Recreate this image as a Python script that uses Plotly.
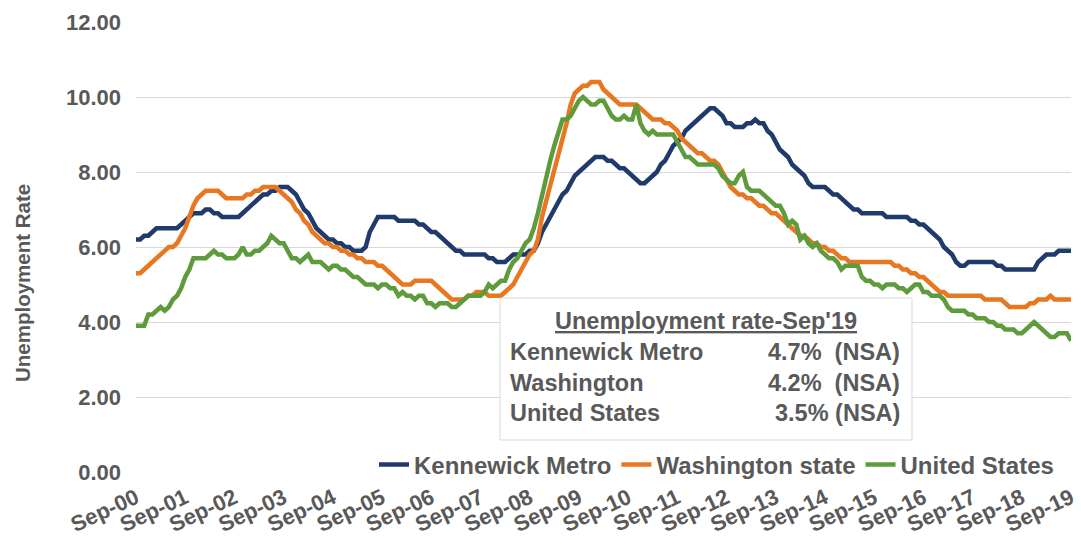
import plotly.graph_objects as go

# Monthly unemployment rates, Sep-2000 .. Sep-2019 (12 per row: Sep..Aug)
kennewick = [
    6.2, 6.2, 6.3, 6.3, 6.4, 6.5, 6.5, 6.5, 6.5, 6.5, 6.5, 6.6,
    6.7, 6.8, 6.9, 6.9, 6.9, 7.0, 7.0, 6.9, 6.9, 6.8, 6.8, 6.8,
    6.8, 6.8, 6.9, 7.0, 7.1, 7.2, 7.3, 7.4, 7.4, 7.5, 7.5, 7.6,
    7.6, 7.6, 7.5, 7.4, 7.2, 7.0, 6.9, 6.7, 6.5, 6.4, 6.3, 6.2,
    6.2, 6.1, 6.1, 6.0, 6.0, 5.9, 5.9, 5.9, 6.0, 6.4, 6.6, 6.8,
    6.8, 6.8, 6.8, 6.8, 6.7, 6.7, 6.7, 6.7, 6.7, 6.6, 6.6, 6.5,
    6.4, 6.4, 6.3, 6.2, 6.1, 6.0, 5.9, 5.9, 5.8, 5.8, 5.8, 5.8,
    5.8, 5.8, 5.7, 5.7, 5.6, 5.6, 5.6, 5.7, 5.8, 5.8, 5.8, 5.8,
    5.9, 5.9, 6.1, 6.4, 6.6, 6.8, 7.0, 7.2, 7.4, 7.5, 7.7, 7.9,
    8.0, 8.1, 8.2, 8.3, 8.4, 8.4, 8.4, 8.3, 8.3, 8.2, 8.1, 8.1,
    8.0, 7.9, 7.8, 7.7, 7.7, 7.8, 7.9, 8.0, 8.2, 8.3, 8.5, 8.7,
    8.8, 8.9, 9.1, 9.2, 9.3, 9.4, 9.5, 9.6, 9.7, 9.7, 9.6, 9.5,
    9.3, 9.3, 9.2, 9.2, 9.2, 9.3, 9.3, 9.4, 9.3, 9.3, 9.1, 9.0,
    8.8, 8.6, 8.5, 8.4, 8.2, 8.1, 8.0, 7.9, 7.7, 7.6, 7.6, 7.6,
    7.6, 7.5, 7.4, 7.4, 7.3, 7.2, 7.1, 7.0, 7.0, 6.9, 6.9, 6.9,
    6.9, 6.9, 6.9, 6.8, 6.8, 6.8, 6.8, 6.8, 6.8, 6.7, 6.7, 6.6,
    6.6, 6.5, 6.4, 6.3, 6.2, 6.0, 5.9, 5.8, 5.6, 5.5, 5.5, 5.6,
    5.6, 5.6, 5.6, 5.6, 5.6, 5.6, 5.5, 5.5, 5.4, 5.4, 5.4, 5.4,
    5.4, 5.4, 5.4, 5.4, 5.6, 5.7, 5.8, 5.8, 5.8, 5.9, 5.9, 5.9, 5.9,
]

washington = [
    5.3, 5.3, 5.4, 5.5, 5.6, 5.7, 5.8, 5.9, 6.0, 6.0, 6.1, 6.3,
    6.5, 6.8, 7.1, 7.3, 7.4, 7.5, 7.5, 7.5, 7.5, 7.4, 7.3, 7.3,
    7.3, 7.3, 7.3, 7.4, 7.4, 7.5, 7.5, 7.6, 7.6, 7.6, 7.6, 7.5,
    7.4, 7.3, 7.2, 7.0, 6.9, 6.7, 6.6, 6.4, 6.3, 6.2, 6.1, 6.1,
    6.0, 6.0, 5.9, 5.9, 5.8, 5.8, 5.7, 5.7, 5.6, 5.6, 5.6, 5.5,
    5.5, 5.4, 5.3, 5.2, 5.1, 5.0, 5.0, 5.0, 5.1, 5.1, 5.1, 5.1,
    5.1, 5.0, 4.9, 4.8, 4.7, 4.6, 4.6, 4.6, 4.6, 4.7, 4.7, 4.8,
    4.8, 4.8, 4.7, 4.7, 4.7, 4.7, 4.8, 4.9, 5.0, 5.2, 5.4, 5.6,
    5.8, 5.9, 6.2, 6.8, 7.2, 7.7, 8.1, 8.5, 8.9, 9.3, 9.8, 10.1,
    10.2, 10.3, 10.3, 10.4, 10.4, 10.4, 10.2, 10.1, 10.0, 9.9, 9.8, 9.8,
    9.8, 9.8, 9.8, 9.7, 9.6, 9.5, 9.4, 9.4, 9.4, 9.3, 9.3, 9.2,
    9.1, 8.9, 8.8, 8.7, 8.6, 8.5, 8.5, 8.4, 8.3, 8.3, 8.2, 8.0,
    7.8, 7.6, 7.5, 7.4, 7.4, 7.3, 7.3, 7.2, 7.1, 7.1, 7.0, 6.9,
    6.9, 6.8, 6.7, 6.6, 6.5, 6.4, 6.3, 6.3, 6.2, 6.1, 6.1, 6.0,
    6.0, 5.9, 5.9, 5.8, 5.7, 5.7, 5.6, 5.6, 5.6, 5.6, 5.6, 5.6,
    5.6, 5.6, 5.6, 5.6, 5.6, 5.5, 5.5, 5.4, 5.4, 5.3, 5.3, 5.2,
    5.2, 5.1, 5.0, 4.9, 4.8, 4.8, 4.7, 4.7, 4.7, 4.7, 4.7, 4.7,
    4.7, 4.7, 4.7, 4.6, 4.6, 4.6, 4.6, 4.6, 4.5, 4.4, 4.4, 4.4,
    4.4, 4.4, 4.5, 4.5, 4.6, 4.6, 4.6, 4.7, 4.6, 4.6, 4.6, 4.6, 4.6,
]

united_states = [
    3.9, 3.9, 3.9, 4.2, 4.2, 4.3, 4.4, 4.3, 4.4, 4.6, 4.7, 4.9,
    5.2, 5.4, 5.7, 5.7, 5.7, 5.7, 5.8, 5.9, 5.8, 5.8, 5.7, 5.7,
    5.7, 5.8, 6.0, 5.8, 5.8, 5.9, 5.9, 6.0, 6.1, 6.3, 6.2, 6.1,
    6.1, 5.9, 5.7, 5.7, 5.6, 5.7, 5.8, 5.6, 5.6, 5.6, 5.5, 5.4,
    5.5, 5.5, 5.4, 5.4, 5.3, 5.2, 5.2, 5.1, 5.0, 5.0, 5.0, 4.9,
    5.0, 5.0, 4.9, 4.9, 4.7, 4.8, 4.7, 4.7, 4.6, 4.7, 4.7, 4.5,
    4.5, 4.4, 4.5, 4.5, 4.5, 4.4, 4.4, 4.5, 4.6, 4.7, 4.7, 4.7,
    4.7, 4.8, 5.0, 4.9, 5.0, 5.1, 5.1, 5.4, 5.6, 5.7, 5.9, 6.1,
    6.2, 6.5, 6.9, 7.4, 7.8, 8.3, 8.7, 9.1, 9.4, 9.4, 9.5, 9.7,
    9.9, 10.0, 9.9, 9.8, 9.8, 9.9, 9.9, 9.7, 9.5, 9.4, 9.4, 9.5,
    9.4, 9.4, 9.8, 9.3, 9.1, 9.0, 9.1, 9.0, 9.0, 9.0, 9.0, 9.0,
    8.8, 8.6, 8.4, 8.4, 8.3, 8.2, 8.2, 8.2, 8.2, 8.2, 8.1, 7.9,
    7.8, 7.7, 7.7, 7.9, 8.0, 7.6, 7.5, 7.5, 7.5, 7.4, 7.3, 7.2,
    7.1, 7.1, 6.9, 6.6, 6.7, 6.6, 6.2, 6.3, 6.1, 6.0, 6.1, 5.9,
    5.8, 5.7, 5.7, 5.6, 5.4, 5.5, 5.5, 5.5, 5.5, 5.2, 5.1, 5.1,
    5.0, 5.0, 4.9, 5.0, 5.0, 5.0, 4.9, 4.9, 4.8, 4.9, 5.0, 5.0,
    4.8, 4.8, 4.7, 4.7, 4.7, 4.6, 4.4, 4.3, 4.3, 4.3, 4.3, 4.2,
    4.2, 4.1, 4.1, 4.1, 4.0, 4.0, 3.9, 3.9, 3.8, 3.8, 3.8, 3.7,
    3.7, 3.8, 3.9, 4.0, 3.9, 3.8, 3.7, 3.6, 3.6, 3.7, 3.7, 3.7, 3.5,
]

year_labels = ["Sep-%02d" % y for y in range(0, 20)]
series_names = ["Kennewick Metro", "Washington state", "United States"]
box_rows = [("Kennewick Metro", "4.7%  (NSA)"),
            ("Washington", "4.2%  (NSA)"),
            ("United States", "3.5% (NSA)")]

months = list(range(len(kennewick)))
colors = ["#1F3A6B", "#E87722", "#5E9B3C"]
FONT = "Liberation Sans, Arial, sans-serif"
GREY = "#595959"

fig = go.Figure()
for name, vals, col in zip(series_names, [kennewick, washington, united_states], colors):
    fig.add_trace(go.Scatter(x=months, y=vals, mode="lines", name="<b>%s</b>" % name,
                             line=dict(color=col, width=4.5)))

L, R, T, B = 136, 10, 22, 72
W, H = 1081, 544
pw, ph = W - L - R, H - T - B

def px(x):
    return (x - L) / pw

def py(y):
    return (H - B - y) / ph

fig.update_layout(
    width=W, height=H,
    margin=dict(l=L, r=R, t=T, b=B, autoexpand=False),
    paper_bgcolor="white", plot_bgcolor="white",
    font=dict(family=FONT, color=GREY, size=22),
    showlegend=True,
    legend=dict(orientation="h", x=px(374), xanchor="left", y=py(465), yanchor="middle",
                bgcolor="rgba(0,0,0,0)", font=dict(size=24, family=FONT, color=GREY),
                itemwidth=30, tracegroupgap=0),
    xaxis=dict(range=[0, len(kennewick) - 1], tickmode="array", automargin=False,
               tickvals=[12 * i for i in range(len(year_labels))],
               ticktext=["<b>%s</b>" % t for t in year_labels],
               tickangle=-25, showgrid=False, zeroline=False, showline=False, ticks="",
               ticklabeloverflow="allow", ticklabelstandoff=8,
               tickfont=dict(size=22, family=FONT, color=GREY)),
    yaxis=dict(range=[0, 12], tickmode="array", tickvals=[0, 2, 4, 6, 8, 10, 12], automargin=False,
               ticktext=["<b>%.2f</b>" % v for v in [0, 2, 4, 6, 8, 10, 12]],
               showgrid=True, gridcolor="#D9D9D9", gridwidth=1, zeroline=False, showline=False,
               ticks="", ticklabelstandoff=14, tickfont=dict(size=22, family=FONT, color=GREY)),
)

# Axis title
fig.add_annotation(xref="paper", yref="paper", x=px(22), y=py(283), text="<b>Unemployment Rate</b>",
                   textangle=-90, showarrow=False, font=dict(size=20.5, family=FONT, color=GREY),
                   xanchor="center", yanchor="middle")

# Info box
fig.add_shape(type="rect", xref="paper", yref="paper", x0=px(500), x1=px(912), y0=py(440), y1=py(298),
              line=dict(color="#D9D9D9", width=1), fillcolor="white", layer="above")
fig.add_annotation(xref="paper", yref="paper", x=px(706), y=py(321), text="<b><u>Unemployment rate-Sep'19</u></b>",
                   showarrow=False, font=dict(size=23.5, family=FONT, color=GREY), xanchor="center", yanchor="middle")
for i, (lab, val) in enumerate(box_rows):
    yy = py(352 + 30.5 * i)
    fig.add_annotation(xref="paper", yref="paper", x=px(508), y=yy, text="<b>%s</b>" % lab, showarrow=False,
                       font=dict(size=23.5, family=FONT, color=GREY), xanchor="left", yanchor="middle")
    fig.add_annotation(xref="paper", yref="paper", x=px(902), y=yy, text="<b>%s</b>" % val.replace("  ", "&nbsp; "),
                       showarrow=False, font=dict(size=23.5, family=FONT, color=GREY), xanchor="right", yanchor="middle")

fig.write_html("out.html", config={"displayModeBar": False},
               post_script="document.body.style.margin='0';document.body.style.overflow='hidden';")
